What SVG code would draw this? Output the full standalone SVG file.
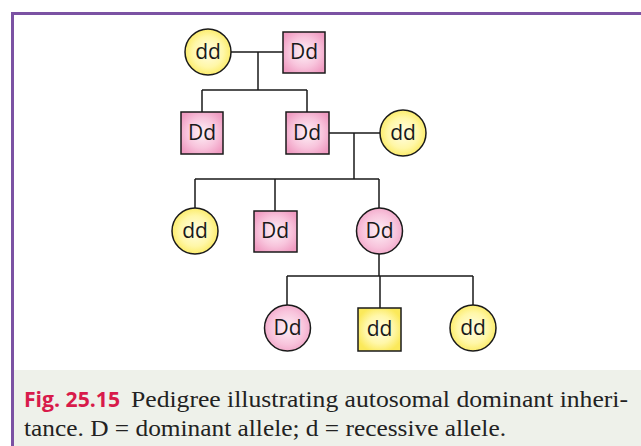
<svg xmlns="http://www.w3.org/2000/svg" width="641" height="446" viewBox="0 0 641 446">
<defs>
<radialGradient id="gy" cx="50%" cy="50%" r="55%"><stop offset="0" stop-color="#fffde6"/><stop offset="0.6" stop-color="#fff7a8"/><stop offset="1" stop-color="#fbe95a"/></radialGradient>
<radialGradient id="gp" cx="50%" cy="50%" r="60%"><stop offset="0" stop-color="#fdf0f6"/><stop offset="0.6" stop-color="#f8c4dc"/><stop offset="1" stop-color="#f09cc2"/></radialGradient>
</defs>
<style>
.yel{fill:url(#gy);stroke:#1a1a1a;stroke-width:1.5}
.pnk{fill:url(#gp);stroke:#1a1a1a;stroke-width:1.5}
.lbl{font-family:"Open Sans","Noto Sans",sans-serif;font-size:21px;fill:#1a1a1a;text-anchor:middle;dominant-baseline:central}
.ln{stroke:#1a1a1a;stroke-width:1.5;fill:none}
.cap{font-family:"Liberation Serif",serif;font-size:24px;fill:#222}
.fig{font-family:"Open Sans","Noto Sans",sans-serif;font-size:21px;font-weight:bold;fill:#d81b4b}
</style>
<rect x="0" y="0" width="641" height="446" fill="#ffffff"/>
<rect x="13" y="370" width="628" height="76" fill="#eef1ea"/>
<line x1="12.5" y1="12" x2="12.5" y2="446" stroke="#7b52a3" stroke-width="3"/>
<line x1="11" y1="13.5" x2="641" y2="13.5" stroke="#7b52a3" stroke-width="3"/>
<g id="connectors">
<path class="ln" d="M231 52 H283 M258 52 V90 M202 90 H307 M202 90 V112 M307 90 V112"/>
<path class="ln" d="M329 133 H380 M354 133 V179 M195 179 H379 M195 179 V208 M275 179 V211 M379 179 V208"/>
<path class="ln" d="M379 254 V276 M287 276 H473 M287 276 V305 M380 276 V308 M473 276 V305"/>
</g>
<g id="g1-mother"><circle class="yel" cx="208" cy="52" r="23"/><text class="lbl" x="208" y="51">dd</text></g>
<g id="g1-father"><rect class="pnk" x="283" y="32" width="42" height="41"/><text class="lbl" x="304" y="51">Dd</text></g>
<g id="g2-son1"><rect class="pnk" x="181" y="112" width="42" height="42"/><text class="lbl" x="202" y="132">Dd</text></g>
<g id="g2-son2"><rect class="pnk" x="286" y="112" width="43" height="42"/><text class="lbl" x="307" y="132">Dd</text></g>
<g id="g2-wife"><circle class="yel" cx="403" cy="133" r="23"/><text class="lbl" x="403" y="132">dd</text></g>
<g id="g3-daughter1"><circle class="yel" cx="195" cy="231" r="23"/><text class="lbl" x="195" y="230">dd</text></g>
<g id="g3-son"><rect class="pnk" x="254" y="211" width="43" height="41"/><text class="lbl" x="275" y="230">Dd</text></g>
<g id="g3-daughter2"><circle class="pnk" cx="379.5" cy="231" r="23"/><text class="lbl" x="379.5" y="230">Dd</text></g>
<g id="g4-daughter1"><circle class="pnk" cx="287.5" cy="328" r="23"/><text class="lbl" x="287.5" y="327">Dd</text></g>
<g id="g4-son"><rect class="yel" x="358" y="308" width="43" height="43"/><text class="lbl" x="379.5" y="328">dd</text></g>
<g id="g4-daughter2"><circle class="yel" cx="473" cy="328" r="23"/><text class="lbl" x="473" y="327">dd</text></g>
<g id="caption">
<text class="fig" x="24" y="407" textLength="96" lengthAdjust="spacingAndGlyphs">Fig. 25.15</text>
<text class="cap" x="131" y="407" textLength="497" lengthAdjust="spacingAndGlyphs">Pedigree illustrating autosomal dominant inheri-</text>
<text class="cap" x="24" y="436" textLength="482" lengthAdjust="spacingAndGlyphs">tance. D = dominant allele; d = recessive allele.</text>
</g>
</svg>
